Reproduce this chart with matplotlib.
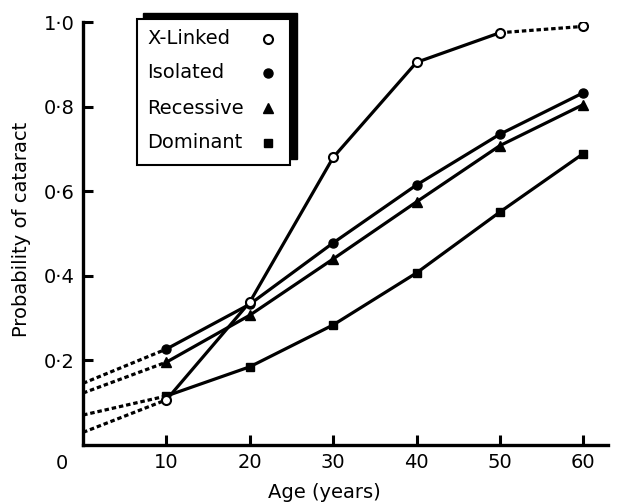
import matplotlib
matplotlib.use("Agg")
import matplotlib.pyplot as plt
from matplotlib.patches import Rectangle
from matplotlib.lines import Line2D

# ------------------------------
# Data
# ------------------------------
ages = [10, 20, 30, 40, 50, 60]
xlinked = [0.107, 0.338, 0.68, 0.905, 0.975, 0.99]
isolated = [0.227, 0.333, 0.478, 0.615, 0.735, 0.833]
recessive = [0.196, 0.307, 0.44, 0.575, 0.708, 0.805]
dominant = [0.116, 0.185, 0.284, 0.407, 0.551, 0.689]

# extrapolated values at age 0 (dotted parts)
at_zero = {"X-Linked": 0.03, "Isolated": 0.146, "Recessive": 0.123, "Dominant": 0.071}

labels = ["X-Linked", "Isolated", "Recessive", "Dominant"]
xticks = [10, 20, 30, 40, 50, 60]
yticks = [0.2, 0.4, 0.6, 0.8, 1.0]
ytick_labels = ["0·2", "0·4", "0·6", "0·8", "1·0"]

plt.rcParams["font.family"] = ["DejaVu Sans"]

fig = plt.figure(figsize=(6.2, 5.04), dpi=100)
ax = fig.add_axes([0.134, 0.117, 0.847, 0.839])

series = [xlinked, isolated, recessive, dominant]
styles = [
    dict(marker="o", mfc="white", mec="black", ms=6.5, mew=1.5),
    dict(marker="o", mfc="black", mec="black", ms=6.5),
    dict(marker="^", mfc="black", mec="black", ms=7),
    dict(marker="s", mfc="black", mec="black", ms=6),
]
dots = (0, (1.4, 0.9))

for name, vals, st in zip(labels, series, styles):
    # dotted extrapolation back to age 0
    ax.plot([0, ages[0]], [at_zero[name], vals[0]], color="black", lw=2.3,
            linestyle=dots, zorder=2)
    if name == "X-Linked":
        ax.plot(ages[:5], vals[:5], color="black", lw=2.3, zorder=2)
        ax.plot(ages[4:], vals[4:], color="black", lw=2.3, linestyle=dots, zorder=2)
        ax.plot(ages, vals, linestyle="none", zorder=4, **st)
    else:
        ax.plot(ages, vals, color="black", lw=2.3, zorder=3)
        ax.plot(ages, vals, linestyle="none", zorder=3, **st)

ax.set_xlim(0, 63)
ax.set_ylim(0, 1.0)
for s in ["top", "right"]:
    ax.spines[s].set_visible(False)
for s in ["left", "bottom"]:
    ax.spines[s].set_linewidth(2.4)

ax.set_xticks(xticks)
ax.set_xticklabels([str(t) for t in xticks])
ax.set_yticks(yticks)
ax.set_yticklabels(ytick_labels)
ax.tick_params(direction="in", length=7, width=2.2, labelsize=14, pad=6)
ax.text(-0.04, -0.043, "0", transform=ax.transAxes, fontsize=14,
        ha="center", va="center")

ax.set_xlabel("Age (years)", fontsize=14)
ax.xaxis.set_label_coords(0.46, -0.09)
ax.set_ylabel("Probability of cataract", fontsize=14)
ax.yaxis.set_label_coords(-0.10, 0.51)

# ------------------------------
# Legend box with offset shadow
# ------------------------------
W, H = 620, 504
def fx(px):
    return px / W
def fy(py):
    return 1 - py / H

fig.patches.append(Rectangle((fx(143), fy(159)), fx(297) - fx(143), fy(13) - fy(159),
                             transform=fig.transFigure, facecolor="black",
                             edgecolor="black", zorder=5))
fig.patches.append(Rectangle((fx(137), fy(165)), fx(290) - fx(137), fy(19) - fy(165),
                             transform=fig.transFigure, facecolor="white",
                             edgecolor="black", lw=1.5, zorder=6))
rows = [39, 73, 108, 143]
for name, st, py in zip(labels, styles, rows):
    fig.text(fx(147), fy(py), name, fontsize=14, ha="left", va="center", zorder=7)
    fig.lines.append(Line2D([fx(268)], [fy(py)], transform=fig.transFigure,
                            linestyle="none", zorder=7, **st))

fig.savefig("out.png", dpi=100)
